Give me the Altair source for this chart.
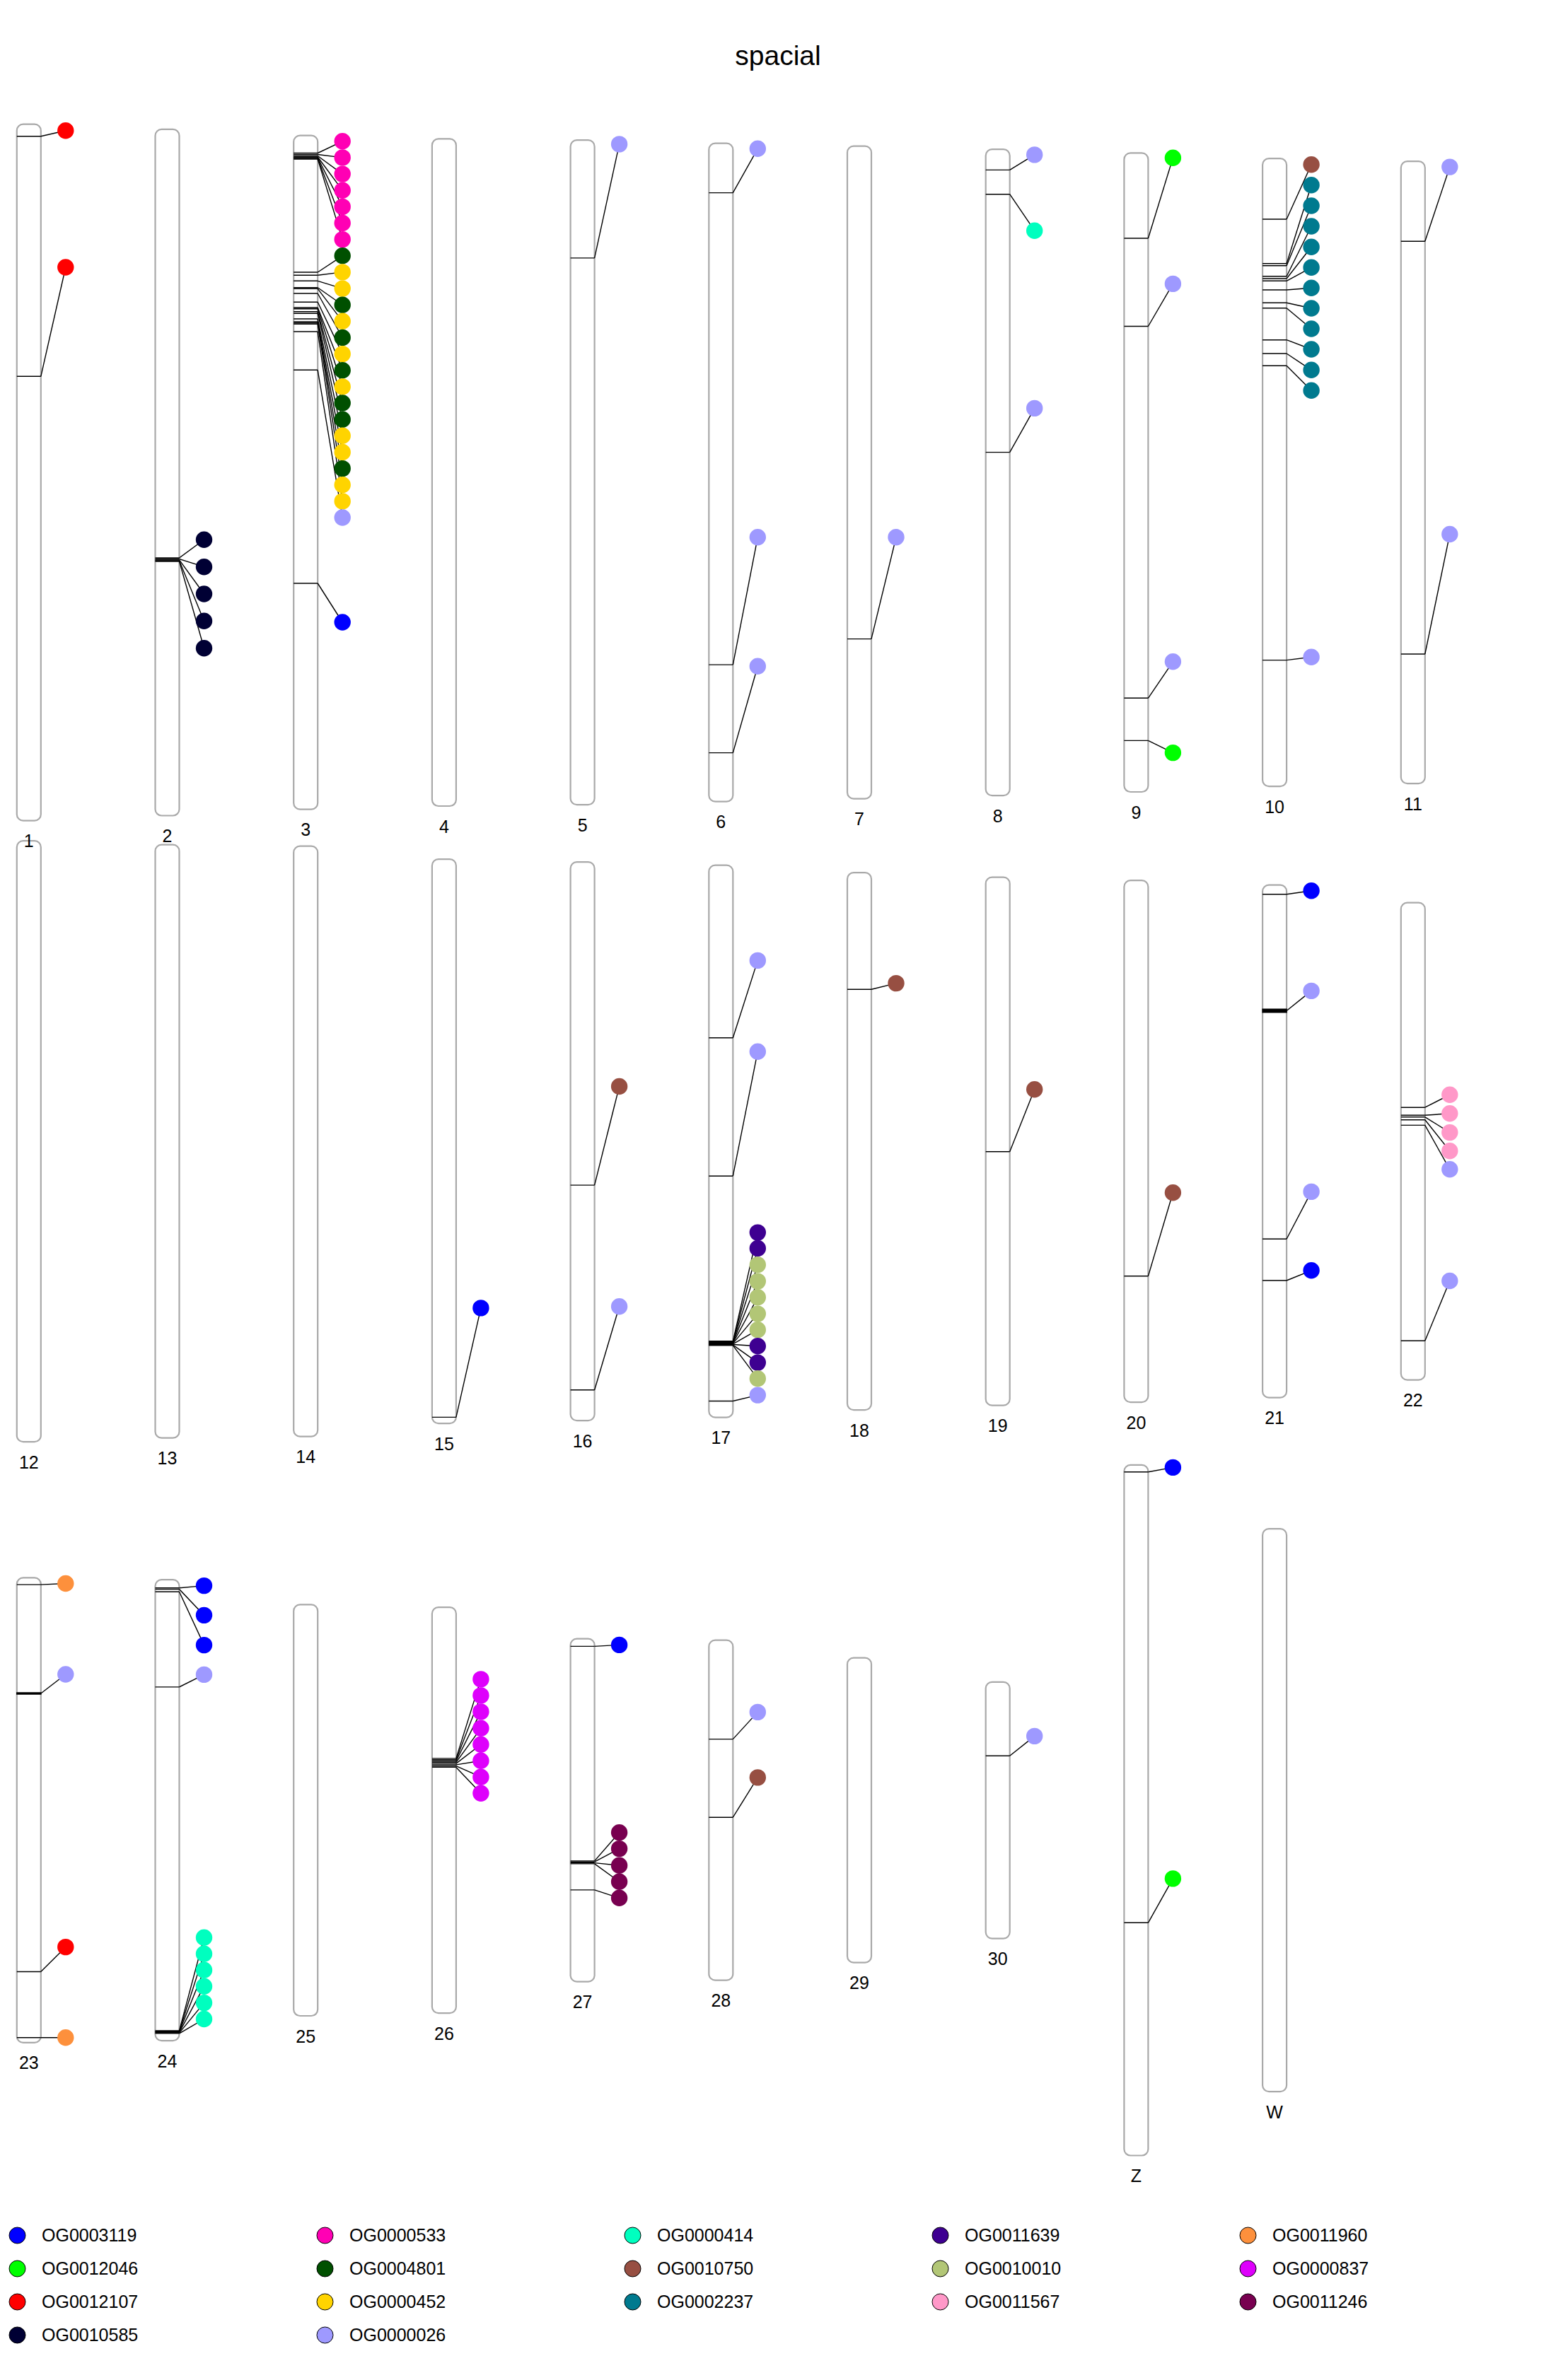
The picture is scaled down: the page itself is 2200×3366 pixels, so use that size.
import altair as alt
import pandas as pd

# ---------------- data ----------------
chrom_names = ["1", "2", "3", "4", "5", "6", "7", "8", "9", "10", "11",
               "12", "13", "14", "15", "16", "17", "18", "19", "20", "21", "22",
               "23", "24", "25", "26", "27", "28", "29", "30", "Z", "W"]
chrom_length_mb = [98.5, 97.06, 95.3, 94.36, 94.0, 93.1, 92.3, 91.4, 90.36, 88.8, 88.0,
                   85.0, 83.9, 83.5, 79.8, 79.0, 78.1, 76.0, 74.7, 73.8, 72.5, 67.5,
                   65.75, 65.2, 58.16, 57.4, 48.5, 48.1, 43.1, 36.27, 97.66, 79.6]

# one entry per gene: chromosome, start (Mb), label position (Mb), orthogroup code
gene_chrom = (["1"] * 2 + ["2"] * 5 + ["3"] * 25 + ["5"] + ["6"] * 3 + ["7"] + ["8"] * 3
              + ["9"] * 4 + ["10"] * 13 + ["11"] * 2 + ["15"] + ["16"] * 2 + ["17"] * 13
              + ["18"] + ["19"] + ["20"] + ["21"] * 4 + ["22"] * 6 + ["23"] * 4 + ["24"] * 10
              + ["26"] * 8 + ["27"] * 6 + ["28"] * 2 + ["30"] + ["Z"] * 2)
gene_start = [1.70, 35.66,
              60.61, 60.76, 60.91, 61.01, 61.11,
              2.48, 2.68, 2.88, 3.03, 3.13, 3.23, 3.33,
              19.33, 19.76, 20.56, 21.50, 21.66, 22.33, 23.56, 24.33, 24.50, 24.90, 25.16,
              25.93, 26.33, 26.50, 26.66, 27.73, 33.16, 63.33,
              16.67,
              6.99, 73.74, 86.19,
              69.69,
              2.92, 6.35, 42.84,
              12.06, 24.51, 77.09, 83.10,
              8.58, 14.85, 15.15, 16.65, 16.98, 17.31, 18.58, 20.41, 21.15, 25.65, 27.58, 29.31, 70.94,
              11.31, 69.68,
              78.92,
              45.69, 74.66,
              24.41, 43.95, 67.31, 67.38, 67.44, 67.51, 67.58, 67.64, 67.71, 67.78, 67.84, 67.91, 75.78,
              16.50,
              38.81,
              55.95,
              1.30, 17.56, 50.06, 55.93,
              28.95, 30.06, 30.31, 30.70, 31.47, 61.96,
              0.97, 16.25, 55.71, 65.03,
              1.16, 1.34, 1.71, 15.17, 63.77, 63.85, 63.93, 64.01, 64.09, 64.17,
              21.37, 21.55, 21.73, 21.91, 22.09, 22.27, 22.45, 22.62,
              1.07, 31.42, 31.55, 31.69, 31.82, 35.52,
              13.99, 25.05,
              10.44,
              0.99, 64.74]
# genes that cover a visible stretch: index in the gene list -> end (Mb)
gene_end_mb = {79: 18.01, 89: 16.45}
label_pos = [0.90, 20.23,
             58.04, 61.88, 65.71, 69.54, 73.38,
             0.81, 3.12, 5.44, 7.75, 10.07, 12.38, 14.69,
             17.01, 19.32, 21.64, 23.95, 26.26, 28.58, 30.89, 33.21, 35.52, 37.83, 40.15,
             42.46, 44.78, 47.09, 49.40, 51.72, 54.03, 68.83,
             0.57,
             0.76, 55.71, 73.95,
             55.31,
             0.77, 11.50, 36.62,
             0.68, 18.50, 71.94, 84.82,
             0.85, 3.75, 6.68, 9.58, 12.51, 15.41, 18.31, 21.18, 24.08, 26.98, 29.91, 32.81, 70.51,
             0.79, 52.73,
             63.47,
             31.73, 62.86,
             13.47, 26.35, 51.94, 54.18, 56.51, 58.84, 61.11, 63.44, 65.71, 68.01, 70.34, 72.61, 74.94,
             15.64,
             30.01,
             44.15,
             0.81, 14.97, 43.37, 54.51,
             27.16, 29.81, 32.49, 35.11, 37.71, 53.48,
             0.80, 13.65, 52.22, 65.03,
             0.84, 5.02, 9.24, 13.42, 50.61, 52.91, 55.20, 57.50, 59.84, 62.13,
             10.17, 12.47, 14.77, 17.11, 19.41, 21.70, 24.00, 26.30,
             0.87, 27.40, 29.69, 32.06, 34.36, 36.66,
             10.17, 19.42,
             7.65,
             0.35, 58.50]
gene_og = (["12107"] * 2 + ["10585"] * 5
           + ["533"] * 7
           + ["4801", "452", "452", "4801", "452", "4801", "452", "4801", "452", "4801", "4801",
              "452", "452", "4801", "452", "452", "26", "3119"]
           + ["26"]
           + ["26"] * 3
           + ["26"]
           + ["26", "414", "26"]
           + ["12046", "26", "26", "12046"]
           + ["10750"] + ["2237"] * 11 + ["26"]
           + ["26"] * 2
           + ["3119"]
           + ["10750", "26"]
           + ["26", "26", "11639", "11639", "10010", "10010", "10010", "10010", "10010",
              "11639", "11639", "10010", "26"]
           + ["10750"] + ["10750"] + ["10750"]
           + ["3119", "26", "26", "3119"]
           + ["11567"] * 4 + ["26", "26"]
           + ["11960", "26", "12107", "11960"]
           + ["3119"] * 3 + ["26"] + ["414"] * 6
           + ["837"] * 8
           + ["3119"] + ["11246"] * 5
           + ["26", "10750"]
           + ["26"]
           + ["3119", "12046"])

# legend entries, row by row (5 columns)
legend_codes = ["3119", "533", "414", "11639", "11960",
                "12046", "4801", "10750", "10010", "837",
                "12107", "452", "2237", "11567", "11246",
                "10585", "26"]
legend_colors = ["#0000FF", "#FF00B4", "#00FFBF", "#3E0091", "#FD903C",
                 "#00FF00", "#005000", "#974F42", "#B2C676", "#DE00FC",
                 "#FF0000", "#FFD400", "#007A8F", "#FF98C8", "#780050",
                 "#000034", "#9E99FF"]

# ---------------- layout ----------------
PER_ROW = 11
FIRST_ROW_CENTER = 54.82   # Mb units from the top of the plot area
ROW_PITCH = 94.6
HALF_W = 17                # px
DOT_DX = 52                # px

chrom = pd.DataFrame({"name": chrom_names, "length": chrom_length_mb})
chrom["row"] = chrom.index // PER_ROW
chrom["col"] = chrom.index % PER_ROW
chrom["center"] = FIRST_ROW_CENTER + ROW_PITCH * chrom["row"]
chrom["top"] = chrom["center"] - chrom["length"] / 2
chrom["bottom"] = chrom["center"] + chrom["length"] / 2

gene_end = [gene_end_mb.get(i, s) for i, s in enumerate(gene_start)]
genes = pd.DataFrame({"chrom": gene_chrom, "start": gene_start, "end": gene_end,
                      "label": label_pos,
                      "og": ["OG" + c.zfill(7) for c in gene_og]})
genes = genes.merge(chrom[["name", "col", "top"]], left_on="chrom", right_on="name")
genes["y0"] = genes["top"] + genes["start"]
genes["y1"] = genes["top"] + genes["end"]
genes["ymid"] = (genes["y0"] + genes["y1"]) / 2
genes["ydot"] = genes["top"] + genes["label"]

legend_names = ["OG" + c.zfill(7) for c in legend_codes]

W, H, TOP_PAD = 2200, 3246, 120
xs = alt.Scale(domain=[-0.208482, 11.033214], nice=False, zero=False)
ys = alt.Scale(domain=[0, H / 10], reverse=True, nice=False, zero=False)
FONT = "Liberation Sans"

X = alt.X("col:Q", scale=xs, axis=None)
X2 = alt.X2("col:Q")

chrom_layer = alt.Chart(chrom).mark_rect(
    fill="white", stroke="#A9A9A9", strokeWidth=2.2, cornerRadius=9,
    xOffset=-HALF_W, x2Offset=HALF_W
).encode(x=X, x2=X2, y=alt.Y("top:Q", scale=ys, axis=None), y2="bottom:Q")

gene_layer = alt.Chart(genes).mark_rect(
    fill="black", stroke="black", strokeWidth=1.4,
    xOffset=-HALF_W, x2Offset=HALF_W
).encode(x=X, x2=X2, y=alt.Y("y0:Q", scale=ys, axis=None), y2="y1:Q")

link_layer = alt.Chart(genes).mark_rule(
    color="black", strokeWidth=1.4, xOffset=HALF_W, x2Offset=DOT_DX
).encode(x=X, x2=X2, y=alt.Y("ymid:Q", scale=ys, axis=None), y2="ydot:Q")

dot_layer = alt.Chart(genes).mark_circle(
    size=548, opacity=1, xOffset=DOT_DX
).encode(
    x=X, y=alt.Y("ydot:Q", scale=ys, axis=None),
    color=alt.Color("og:N", scale=alt.Scale(domain=legend_names, range=legend_colors),
                    legend=alt.Legend(title=None, orient="none", legendX=12, legendY=3029,
                                      direction="horizontal",
                                      columns=5, columnPadding=250, rowPadding=20,
                                      symbolType="circle", symbolSize=529,
                                      symbolStrokeColor="black", symbolStrokeWidth=1,
                                      symbolOpacity=1, labelFontSize=25, labelFont=FONT,
                                      labelColor="black", labelOffset=22, labelLimit=400,
                                      padding=0))
)

text_layer = alt.Chart(chrom).mark_text(
    fontSize=25, font=FONT, color="black", baseline="middle", dy=29.5
).encode(x=X, y=alt.Y("bottom:Q", scale=ys, axis=None), text="name:N")

chart = alt.layer(chrom_layer, gene_layer, link_layer, dot_layer, text_layer).properties(
    width=W, height=H,
    padding={"left": 0, "top": TOP_PAD, "right": 0, "bottom": 0},
    autosize=alt.AutoSizeParams(type="none"),
    title=alt.TitleParams(text="spacial", fontSize=39, fontWeight="normal", font=FONT,
                          color="black", anchor="middle", frame="group",
                          baseline="alphabetic", offset=29, dy=40),
    background="white",
).configure_view(strokeWidth=0)

chart.save("out.html", embed_options={"renderer": "svg", "actions": False})
